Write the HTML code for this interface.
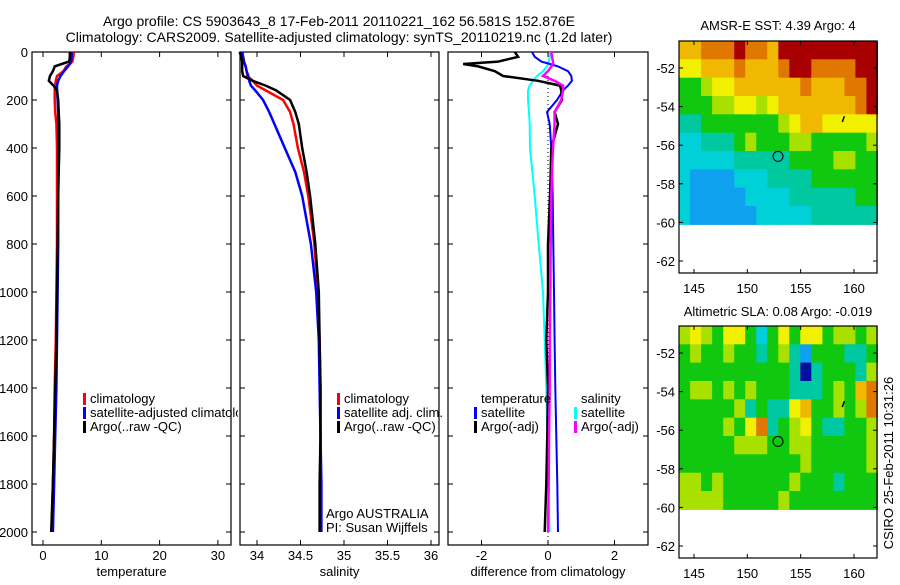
<!DOCTYPE html>
<html><head><meta charset="utf-8"><style>
body{margin:0;background:#fff;width:900px;height:580px;overflow:hidden}
svg text{font-family:"Liberation Sans",sans-serif;font-size:13px;fill:#000}
</style></head><body>
<svg id="s" width="900" height="580" xmlns="http://www.w3.org/2000/svg">
<defs><clipPath id="c1"><rect x="32" y="40" width="206" height="520"/></clipPath></defs>
<text x="339" y="26" text-anchor="middle" style="font-size:14px">Argo profile: CS 5903643_8 17-Feb-2011 20110221_162 56.581S 152.876E</text>
<text x="339" y="42" text-anchor="middle" style="font-size:14px">Climatology: CARS2009. Satellite-adjusted climatology: synTS_20110219.nc (1.2d later)</text>
<text x="778" y="30" text-anchor="middle">AMSR-E SST: 4.39 Argo: 4</text>
<text x="778" y="316" text-anchor="middle">Altimetric SLA: 0.08 Argo: -0.019</text>
<text transform="translate(893,463) rotate(-90)" text-anchor="middle">CSIRO 25-Feb-2011 10:31:26</text>
<g id="g"></g>
</svg>
<script>
// ---- data ----
const depths = [0,20,40,50,60,80,100,120,140,160,200,250,300,400,500,600,800,1000,1200,1400,1600,1800,2000];
const tClim  = [5.3,5.2,5.0,4.6,4.0,3.5,2.4,2.2,2.1,2.0,2.0,2.1,2.3,2.4,2.4,2.4,2.4,2.3,2.2,2.0,1.9,1.7,1.5];
const tSat   = [4.9,4.9,4.8,4.6,4.3,3.6,3.0,2.6,2.4,2.4,2.5,2.6,2.6,2.6,2.6,2.6,2.6,2.5,2.4,2.3,2.1,1.9,1.7];
const tArgo  = [4.6,4.6,4.5,3.2,2.0,1.7,1.2,1.0,1.8,2.4,2.6,2.7,2.8,2.8,2.7,2.6,2.5,2.4,2.3,2.1,1.9,1.7,1.4];
const sClim  = [33.83,33.84,33.85,33.86,33.87,33.88,33.89,33.95,34.0,34.1,34.3,34.38,34.42,34.47,34.54,34.59,34.66,34.7,34.72,34.73,34.73,34.73,34.73];
const sSat   = [33.83,33.84,33.85,33.86,33.87,33.88,33.9,33.91,33.93,33.98,34.07,34.14,34.2,34.32,34.44,34.52,34.62,34.68,34.71,34.72,34.73,34.74,34.74];
const sArgo  = [33.8,33.82,33.83,33.83,33.83,33.83,33.84,33.95,34.1,34.22,34.38,34.44,34.48,34.52,34.57,34.61,34.67,34.71,34.72,34.73,34.73,34.72,34.72];
const dTsat  = [-0.48,-0.4,-0.2,0.06,0.3,0.6,0.7,0.72,0.6,0.45,0.27,-0.03,0.05,0.1,0.12,0.14,0.16,0.18,0.2,0.22,0.25,0.28,0.3];
const dTargo = [-1.0,-0.9,-1.5,-2.55,-2.1,-1.6,-1.35,-0.3,0.36,0.4,0.42,0.2,0.3,0.1,0.08,0.06,0.0,0.0,-0.05,0.0,-0.02,-0.05,-0.1];
const dSsat  = [0.06,0.05,0.02,0.0,-0.03,-0.15,-0.33,-0.45,-0.55,-0.6,-0.6,-0.57,-0.55,-0.54,-0.47,-0.4,-0.28,-0.15,-0.1,-0.05,-0.02,0.0,0.05];
const dSargo = [0.1,0.12,0.15,0.15,0.1,0.0,-0.15,0.2,0.45,0.45,0.4,0.2,0.2,0.15,0.12,0.1,0.08,0.07,0.05,0.05,0.03,0.02,0.0];
const depthTicks = [0,200,400,600,800,1000,1200,1400,1600,1800,2000];
const tTicks = [0,10,20,30];
const sTicks = [34,34.5,35,35.5,36];
const sTickLabels = ["34","34.5","35","35.5","36"];
const dTicks = [-2,0,2];
const lonTicks = [145,150,155,160];
const latTicks = [-52,-54,-56,-58,-60,-62];
const sstGrid = [
[7,7,8,8,8,9,8,8,7,9,9,9,9,9,9,9,9,9],
[6,6,7,7,7,8,7,7,7,8,9,9,8,8,8,8,9,9],
[4,4,5,6,6,7,7,7,7,7,7,8,7,7,7,8,8,9],
[4,4,4,5,5,6,6,5,6,7,7,7,7,7,7,7,8,9],
[3,3,4,4,4,4,4,4,4,5,6,7,7,6,6,6,6,6],
[2,2,3,3,3,4,5,4,4,4,5,5,4,4,4,4,4,5],
[2,2,2,2,2,3,3,3,3,3,4,4,4,4,5,5,4,4],
[2,1,1,1,1,2,2,2,3,3,3,3,4,4,4,4,4,4],
[2,1,1,1,1,1,2,2,2,2,3,3,3,3,3,3,4,4],
[2,1,1,1,1,1,1,2,2,2,2,2,3,3,3,3,3,3]];
const slaGrid = [
[5,6,5,4,6,6,4,2,4,6,4,6,6,4,5,5,4,5],
[4,5,4,4,5,4,4,3,4,5,3,1,4,4,4,3,3,4],
[4,4,4,4,4,4,4,4,4,4,3,0,3,4,4,4,3,5],
[4,5,5,4,5,4,5,4,4,4,3,3,3,4,5,4,7,8],
[4,4,4,4,4,5,3,4,3,3,6,7,4,4,5,4,5,8],
[4,4,4,4,5,4,6,8,3,4,5,6,4,3,3,4,4,5],
[4,4,4,4,4,5,5,5,4,4,5,5,4,4,4,4,4,5],
[4,4,4,4,4,4,4,4,4,4,4,5,4,4,4,4,4,5],
[5,5,4,5,4,4,4,4,4,4,5,4,4,4,3,4,4,4],
[5,5,5,5,4,4,4,4,4,5,4,4,4,4,4,4,4,4]];
const argoLon = 152.876, argoLat = -56.581;
const palette = ['#0010a0','#10a0f0','#00d0d8','#00c8a0','#10c810','#a8e000','#f0f000','#f0b800','#e07800','#a80000'];

// ---- drawing ----
const NS='http://www.w3.org/2000/svg', G=document.getElementById('g');
function el(t,a,p){const e=document.createElementNS(NS,t);for(const k in a)e.setAttribute(k,a[k]);(p||G).appendChild(e);return e;}
const yD = d => 52 + d*0.24;
function lin(d0,d1,p0,p1){return v=>p0+(v-d0)*(p1-p0)/(d1-d0);}
function panel(name,x0,x1,xs,ticks,labels,xlabel,showY){
  const b=el('rect',{x:x0,y:52,width:x1-x0,height:493,fill:'none',stroke:'#000','stroke-width':1.2});
  
  
  ticks.forEach((t,i)=>{const x=xs(t);
    el('line',{x1:x,x2:x,y1:545,y2:540,stroke:'#000'});el('line',{x1:x,x2:x,y1:52,y2:57,stroke:'#000'});
    const tx=el('text',{x:x,y:560,'text-anchor':'middle'});tx.textContent=labels[i];
    
    });
  const xl=el('text',{x:(x0+x1)/2,y:576,'text-anchor':'middle'});xl.textContent=xlabel;
  
  
  depthTicks.forEach(d=>{const y=yD(d);
    el('line',{x1:x0,x2:x0+5,y1:y,y2:y,stroke:'#000'});el('line',{x1:x1,x2:x1-5,y1:y,y2:y,stroke:'#000'});
    if(showY){const t=el('text',{x:x0-4,y:y+5,'text-anchor':'end'});t.textContent=d;
      
      }});
}
function line(vals,xs,color,w,name){
  const pts=vals.map((v,i)=>xs(v).toFixed(1)+','+yD(depths[i]).toFixed(1)).join(' ');
  const p=el('polyline',{points:pts,fill:'none',stroke:color,'stroke-width':w});
  
  
}
function legend(x,y,color,label,name,clip){
  if(color)el('rect',{x:x,y:y-10,width:3,height:12,fill:color});
  const t=el('text',{x:x+7,y:y});t.textContent=label;
  if(clip)t.setAttribute('clip-path','url(#'+clip+')');
  
  
}
// panel 1
const xT=lin(0,10,43,101.3);
panel('temperature-panel',32,231,xT,tTicks,tTicks.map(String),'temperature',true);
line(tClim,xT,'#f00',2.5,'temp-climatology-line');
line(tSat,xT,'#00f',2.5,'temp-satellite-line');
line(tArgo,xT,'#000',2.5,'temp-argo-line');
legend(83,403,'#f00','climatology','temp-legend-climatology');
legend(83,417,'#00f','satellite-adjusted climatology','temp-legend-satellite','c1');
legend(83,431,'#000','Argo(..raw -QC)','temp-legend-argo');
// panel 2
const xS=lin(34,35,257,344);
panel('salinity-panel',240,439,xS,sTicks,sTickLabels,'salinity',false);
line(sClim,xS,'#f00',2.5,'sal-climatology-line');
line(sSat,xS,'#00f',2.5,'sal-satellite-line');
line(sArgo,xS,'#000',2.5,'sal-argo-line');
legend(337,403,'#f00','climatology','sal-legend-climatology');
legend(337,417,'#00f','satellite adj. clim.','sal-legend-satellite');
legend(337,431,'#000','Argo(..raw -QC)','sal-legend-argo');
legend(319,518,null,'Argo AUSTRALIA','pi-institution-label');
legend(319,532,null,'PI: Susan Wijffels','pi-name-label');
// panel 3
const xDf=lin(0,2,548,614.5);
panel('difference-panel',448,648,xDf,dTicks,dTicks.map(String),'difference from climatology',false);
el('line',{x1:548,x2:548,y1:yD(100),y2:545,stroke:'#000','stroke-dasharray':'1,3'});
line(dSsat,xDf,'#0ff',2,'sal-diff-satellite-line');
line(dTsat,xDf,'#00f',2,'temp-diff-satellite-line');
line(dTargo,xDf,'#000',2.5,'temp-diff-argo-line');
line(dSargo,xDf,'#f0f',2.5,'sal-diff-argo-line');
legend(474,403,null,'temperature','diff-legend-temperature-header');
legend(474,417,'#00f','satellite','diff-legend-temp-satellite');
legend(474,431,'#000','Argo(-adj)','diff-legend-temp-argo');
legend(574,403,null,'salinity','diff-legend-salinity-header');
legend(574,417,'#0ff','satellite','diff-legend-sal-satellite');
legend(574,431,'#f0f','Argo(-adj)','diff-legend-sal-argo');
// maps
function map(name,grid,top,fillCircle){
  const lonX=lin(145,160,694,854), latY=lin(-52,-62,top+27,top+220);
  const lon0=143.6,lon1=162.2,lat0=-50.6,lat1=-60.1;
  const nc=grid[0].length,nr=grid.length,dl=(lon1-lon0)/nc,db=(lat0-lat1)/nr;
  grid.forEach((row,r)=>row.forEach((v,c)=>{
    const x=lonX(lon0+c*dl),y=latY(lat0-r*db);
    const cell=el('rect',{x:x.toFixed(1),y:y.toFixed(1),width:(lonX(lon0+(c+1)*dl)-x+0.6).toFixed(1),height:(latY(lat0-(r+1)*db)-y+0.6).toFixed(1),fill:palette[v]});
    
    
  }));
  const f=el('rect',{x:679,y:top,width:198,height:232,fill:'none',stroke:'#000','stroke-width':1.2});
  
  
  lonTicks.forEach(l=>{const x=lonX(l);el('line',{x1:x,x2:x,y1:top,y2:top+4,stroke:'#000'});el('line',{x1:x,x2:x,y1:top+232,y2:top+228,stroke:'#000'});
    const t=el('text',{x:x,y:top+252,'text-anchor':'middle'});t.textContent=l;
    
    });
  latTicks.forEach(l=>{const y=latY(l);el('line',{x1:679,x2:683,y1:y,y2:y,stroke:'#000'});el('line',{x1:877,x2:873,y1:y,y2:y,stroke:'#000'});
    const t=el('text',{x:675,y:y+5,'text-anchor':'end'});t.textContent=l;
    
    });
  const c=el('circle',{cx:lonX(argoLon),cy:latY(argoLat),r:5,fill:fillCircle||'none',stroke:'#000'});
  
  
  el('line',{x1:lonX(158.9),x2:lonX(159.1),y1:latY(-54.8),y2:latY(-54.5),stroke:'#000','stroke-width':1.5});
}
map('sst-map',sstGrid,41,null);
map('sla-map',slaGrid,326,palette[4]);
</script>
</body></html>
